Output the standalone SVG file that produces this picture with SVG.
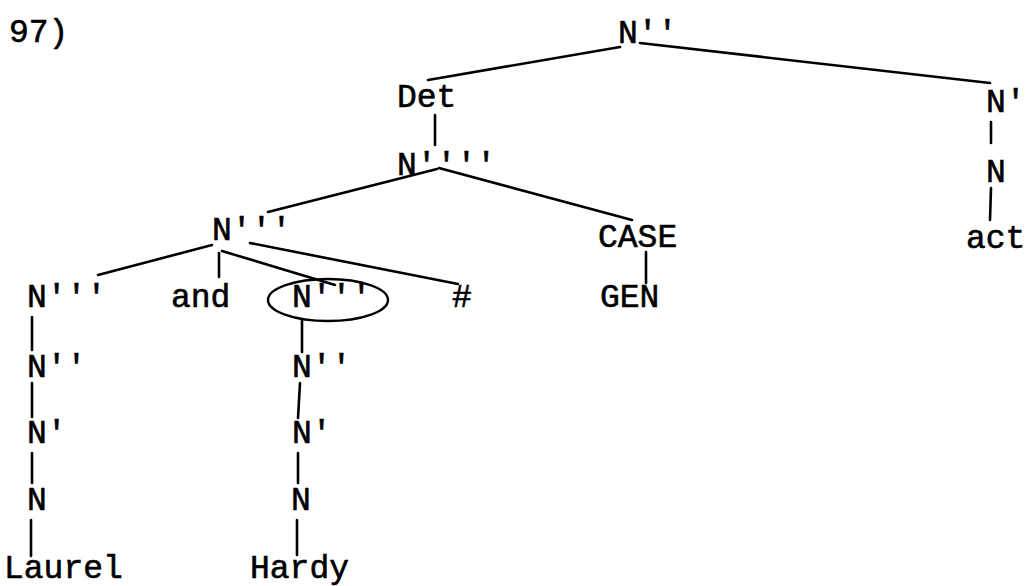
<svg xmlns="http://www.w3.org/2000/svg" width="1028" height="586" viewBox="0 0 1028 586">
<style>
text{font-family:"Liberation Mono","DejaVu Sans Mono",monospace;font-size:33px;fill:#000;stroke:#000;stroke-width:0.6}
.e line{stroke:#000;stroke-width:2.6;stroke-linecap:round}
</style>
<rect width="1028" height="586" fill="#fff"/>
<text x="9" y="42">97)</text>
<g class="e" id="connectors">
<line x1="620" y1="47" x2="428" y2="80"/>
<line x1="640" y1="43" x2="990" y2="83"/>
<line x1="435" y1="115" x2="435" y2="145"/>
<line x1="437" y1="169" x2="268" y2="212"/>
<line x1="439" y1="168" x2="632" y2="220"/>
<line x1="212" y1="245" x2="98" y2="275"/>
<line x1="219" y1="253" x2="219" y2="277"/>
<line x1="222" y1="251" x2="335" y2="285"/>
<line x1="250" y1="243" x2="458" y2="284"/>
<line x1="646" y1="252" x2="646" y2="283"/>
<line x1="991" y1="122" x2="991" y2="143"/>
<line x1="991" y1="188" x2="990" y2="220"/>
<line x1="32" y1="317" x2="32" y2="350"/>
<line x1="32" y1="383" x2="32" y2="417"/>
<line x1="32" y1="453" x2="32" y2="483"/>
<line x1="31" y1="520" x2="31" y2="556"/>
<line x1="302" y1="320" x2="302" y2="352"/>
<line x1="300" y1="383" x2="298" y2="418"/>
<line x1="298" y1="453" x2="298" y2="483"/>
<line x1="297" y1="520" x2="297" y2="555"/>
</g>
<g id="n_top"><text x="618" y="43">N''</text></g>
<g id="n_det"><text x="397" y="107">Det</text></g>
<g id="n_n4"><text x="397" y="175">N''''</text></g>
<g id="n_n3"><text x="212" y="240">N'''</text></g>
<g id="n_case"><text x="598" y="247">CASE</text></g>
<g id="n_gen"><text x="600" y="307">GEN</text></g>
<g id="n_nbar_r"><text x="986" y="112">N'</text></g>
<g id="n_n_r"><text x="986" y="182">N</text></g>
<g id="n_act"><text x="966" y="248">act</text></g>
<g id="n_left3"><text x="27" y="307">N'''</text></g>
<g id="n_and"><text x="171" y="307">and</text></g>
<g id="n_mid3"><text x="292" y="307">N'''</text><ellipse cx="328" cy="300" rx="60" ry="21" fill="none" stroke="#000" stroke-width="2.4"/></g>
<g id="n_hash"><text x="452" y="307">#</text></g>
<g id="n_left2"><text x="27" y="377">N''</text></g>
<g id="n_left1"><text x="27" y="443">N'</text></g>
<g id="n_left0"><text x="27" y="510">N</text></g>
<g id="n_laurel"><text x="4" y="578">Laurel</text></g>
<g id="n_mid2"><text x="292" y="377">N''</text></g>
<g id="n_mid1"><text x="292" y="443">N'</text></g>
<g id="n_mid0"><text x="291" y="510">N</text></g>
<g id="n_hardy"><text x="250" y="578">Hardy</text></g>
</svg>
